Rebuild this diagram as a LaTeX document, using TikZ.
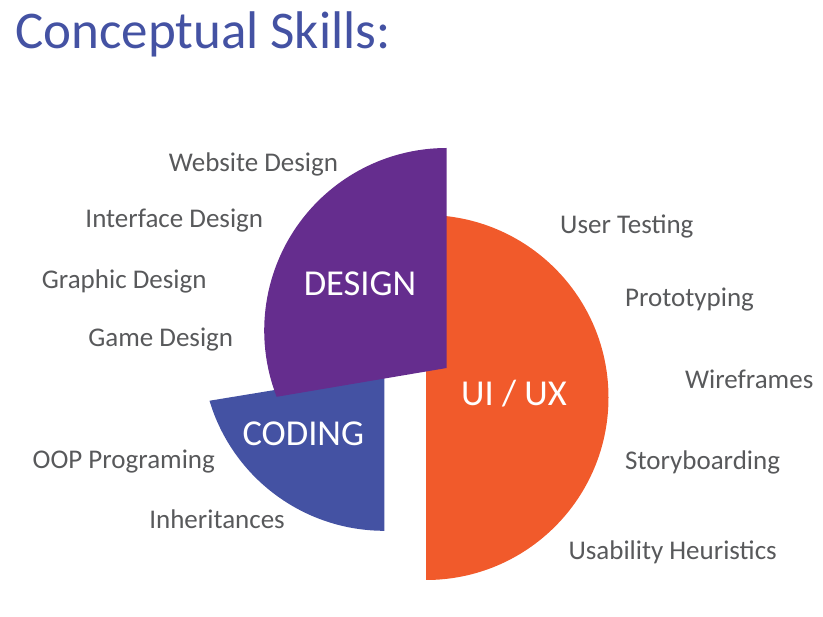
\documentclass[tikz,border=0pt]{standalone}
\usepackage{fontspec}
\setmainfont{Carlito}
\usetikzlibrary{positioning}
\definecolor{uxorange}{RGB}{241,90,43}
\definecolor{designpurple}{RGB}{101,45,142}
\definecolor{codingblue}{RGB}{68,82,163}
\definecolor{skillgray}{RGB}{88,89,91}

\begin{document}
\begin{tikzpicture}[
x=1pt,y=-1pt,
every node/.style={inner sep=0pt},
skill/.style={text=skillgray,font=\fontsize{27}{32}\selectfont},
skillleft/.style={skill,anchor=base east},
skillright/.style={skill,anchor=base west},
area/.style={text=white,font=\fontsize{36.5}{40}\selectfont}
]

\useasboundingbox (0,0) rectangle (823,617);

\node (title)[anchor=base west,text=codingblue,font=\fontsize{53}{60}\selectfont] at (15,49){Conceptual Skills:};

% the three pie pieces
\coordinate (uxc) at (426,397.5);
\coordinate (codingc) at (384.3,348.3);
\coordinate (designc) at (446.7,330.5);

\fill[uxorange] (426,215) arc[start angle=90,end angle=-90,radius=182.5pt] -- cycle;
\fill[codingblue] (384.3,372) -- ([shift={(196.7:182.5pt)}]codingc) arc[start angle=196.7,end angle=270,radius=182.5pt] -- cycle;
\fill[designpurple] (446.7,368) -- ([shift={(201.3:182.5pt)}]designc) arc[start angle=201.3,end angle=90,radius=182.5pt] -- cycle;

\node (design)[area] at (360,283.5){DESIGN};
\node (coding)[area] at (303.3,433.3){CODING};
\node (uiux)[area] at (514,393.3){UI / UX};

% design skills
\node (website)[skillleft] at (338.3,171.7){Website Design};
\node (interface)[skillleft] at (263.3,227.3){Interface Design};
\node (graphic)[skillleft] at (206.7,288.3){Graphic Design};
\node (game)[skillleft] at (233.3,346.7){Game Design};

% coding skills
\node (oop)[skillleft] at (215,468.3){OOP Programing};
\node (inherit)[skillleft] at (285,528.3){Inheritances};

% ui/ux skills
\node (testing)[skillright] at (560,233.3){User Testing};
\node (proto)[skillright] at (625,306.7){Prototyping};
\node (wire)[skillright] at (685,388.3){Wireframes};
\node (story)[skillright] at (625,469.3){Storyboarding};
\node (usability)[skillright] at (568.3,559.3){Usability Heuristics};

\end{tikzpicture}
\end{document}
